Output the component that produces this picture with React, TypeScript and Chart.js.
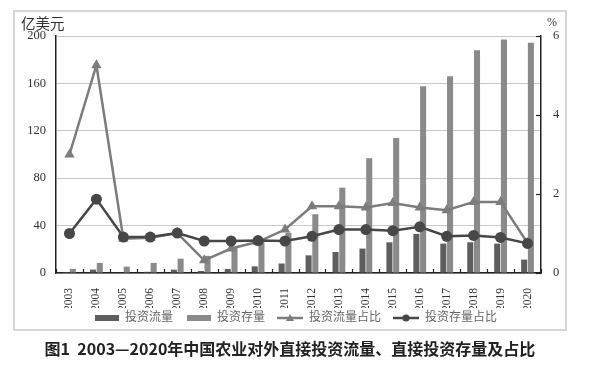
import { useEffect, useRef } from 'react';
import { Chart, registerables } from 'chart.js';
Chart.register(...registerables);

const years = ['2003', '2004', '2005', '2006', '2007', '2008', '2009', '2010', '2011', '2012', '2013', '2014', '2015', '2016', '2017', '2018', '2019', '2020'];
const flow = [0.8, 2.9, 0.5, 1.0, 2.8, 1.7, 3.4, 5.6, 8.0, 14.9, 17.7, 20.6, 25.9, 33.0, 24.8, 25.9, 24.8, 11.3];
const stock = [3.5, 8.5, 5.4, 8.5, 12.1, 14.5, 21.5, 26.0, 34.0, 49.6, 72.0, 96.9, 114.0, 157.6, 166.0, 188.0, 197.0, 194.4];
const flowShare = [3.0, 5.26, 0.87, 0.89, 1.01, 0.32, 0.62, 0.79, 1.10, 1.69, 1.69, 1.66, 1.77, 1.66, 1.59, 1.80, 1.80, 0.76];
const stockShare = [1.0, 1.87, 0.91, 0.91, 1.01, 0.81, 0.81, 0.82, 0.81, 0.93, 1.10, 1.10, 1.07, 1.17, 0.93, 0.95, 0.90, 0.75];
const leftTicks = [0, 40, 80, 120, 160, 200];
const rightTicks = [0, 2, 4, 6];
const names = ['投资流量', '投资存量', '投资流量占比', '投资存量占比'];

const FLOW_C = '#5e5e5e';
const STOCK_C = '#8a8a8a';
const TRI_C = '#7c7c7c';
const CIR_C = '#474747';
const FONT = "'Liberation Serif', 'Noto Sans CJK SC', serif";

function makeIcon(kind: string, color: string): HTMLCanvasElement {
  const c = document.createElement('canvas');
  c.width = 34;
  c.height = 10;
  const g = c.getContext('2d')!;
  g.fillStyle = color;
  g.strokeStyle = color;
  const ox = 8;
  if (kind === 'bar') {
    g.fillRect(ox + 2, 2, 24, 6);
  } else {
    g.lineWidth = 2.5;
    g.beginPath();
    g.moveTo(ox, 5);
    g.lineTo(ox + 26, 5);
    g.stroke();
    g.beginPath();
    if (kind === 'tri') {
      g.moveTo(ox + 13, 1);
      g.lineTo(ox + 17, 8);
      g.lineTo(ox + 9, 8);
      g.closePath();
    } else {
      g.arc(ox + 13, 5, 3.6, 0, Math.PI * 2);
    }
    g.fill();
  }
  return c;
}

const innerTicks = {
  id: 'innerTicks',
  afterDatasetsDraw(chart: any) {
    const { ctx, chartArea } = chart;
    const x = chart.scales.x;
    const y1 = chart.scales.y1;
    ctx.save();
    ctx.strokeStyle = '#222';
    ctx.lineWidth = 1.2;
    const n = years.length;
    const step = (x.right - x.left) / n;
    for (let i = 0; i <= n; i++) {
      const px = Math.round(x.left + i * step) + 0.5;
      ctx.beginPath();
      ctx.moveTo(px, chartArea.bottom);
      ctx.lineTo(px, chartArea.bottom - 4);
      ctx.stroke();
    }
    for (const v of rightTicks) {
      const py = Math.round(y1.getPixelForValue(v)) + 0.5;
      ctx.beginPath();
      ctx.moveTo(chartArea.right, py);
      ctx.lineTo(chartArea.right - 5, py);
      ctx.stroke();
    }
    ctx.restore();
  },
};

export default function App() {
  const ref = useRef<HTMLCanvasElement>(null);
  useEffect(() => {
    if (!ref.current) return;
    const icons = [makeIcon('bar', FLOW_C), makeIcon('bar', STOCK_C), makeIcon('tri', TRI_C), makeIcon('cir', CIR_C)];
    const chart = new Chart(ref.current, {
      type: 'bar',
      data: {
        labels: years,
        datasets: [
          { type: 'bar', label: names[0], data: flow, backgroundColor: FLOW_C, yAxisID: 'y', order: 2, categoryPercentage: 0.5, barPercentage: 0.9 },
          { type: 'bar', label: names[1], data: stock, backgroundColor: STOCK_C, yAxisID: 'y', order: 2, categoryPercentage: 0.5, barPercentage: 0.9 },
          { type: 'line', label: names[2], data: flowShare, borderColor: TRI_C, backgroundColor: TRI_C, borderWidth: 2.5, pointStyle: 'triangle', pointRadius: 6, pointBorderWidth: 0, yAxisID: 'y1', order: 1 },
          { type: 'line', label: names[3], data: stockShare, borderColor: CIR_C, backgroundColor: CIR_C, borderWidth: 2.5, pointStyle: 'circle', pointRadius: 5.5, pointBorderWidth: 0, yAxisID: 'y1', order: 0 },
        ] as any,
      },
      options: {
        responsive: false,
        animation: false,
        layout: { padding: { left: 13, right: 25, top: 36, bottom: 33 } },
        plugins: {
          tooltip: { enabled: false },
          legend: {
            position: 'bottom',
            labels: {
              usePointStyle: true,
              pointStyleWidth: 34,
              boxHeight: 10,
              padding: 4,
              color: '#666',
              font: { size: 12, family: FONT },
              generateLabels: () =>
                names.map((t, i) => ({
                  text: t,
                  pointStyle: icons[i],
                  fillStyle: 'transparent',
                  strokeStyle: 'transparent',
                  lineWidth: 0,
                  hidden: false,
                  datasetIndex: i,
                  fontColor: '#666',
                })),
            },
          },
        },
        scales: {
          x: {
            offset: true,
            grid: { display: false },
            border: { display: true, color: '#222', width: 1.5 },
            ticks: { minRotation: 90, maxRotation: 90, padding: 7, color: '#333', font: { size: 11.5, family: FONT } },
            afterFit: (s: any) => { s.height = 35; },
          },
          y: {
            position: 'left',
            min: 0,
            max: 200,
            afterBuildTicks: (s: any) => { s.ticks = leftTicks.map((v) => ({ value: v })); },
            grid: { color: '#c8c8c8', lineWidth: 1, drawTicks: false },
            border: { display: true, color: '#222', width: 1.5 },
            ticks: { padding: 10, color: '#333', font: { size: 12.5, family: FONT } },
            afterFit: (s: any) => { s.width = 43; },
          },
          y1: {
            position: 'right',
            min: 0,
            max: 6,
            afterBuildTicks: (s: any) => { s.ticks = rightTicks.map((v) => ({ value: v })); },
            grid: { drawOnChartArea: false, drawTicks: false },
            border: { display: true, color: '#222', width: 1.5 },
            ticks: { padding: 12, color: '#333', font: { size: 12.5, family: FONT } },
            afterFit: (s: any) => { s.width = 28; },
          },
        },
      } as any,
      plugins: [innerTicks],
    });
    return () => chart.destroy();
  }, []);

  return (
    <div style={{ position: 'fixed', left: 0, top: 0, width: 594, height: 367, background: '#fff', overflow: 'hidden' }}>
      <div style={{ position: 'absolute', left: 13, top: 10, width: 550, height: 317, border: '2px solid #d6d6d6' }} />
      <canvas ref={ref} width={594} height={367} style={{ position: 'absolute', left: 0, top: 0, width: 594, height: 367 }} />
      <div style={{ position: 'absolute', left: 21, top: 13, fontSize: 14.5, color: '#333', fontFamily: "'Noto Sans CJK SC', sans-serif", lineHeight: '20px' }}>亿美元</div>
      <div style={{ position: 'absolute', left: 547, top: 14, fontSize: 12, color: '#333', fontFamily: FONT, lineHeight: '16px' }}>%</div>
      <div style={{ position: 'absolute', left: 0, width: 580, top: 338, textAlign: 'center', fontSize: 16, fontWeight: 'bold', color: '#222', fontFamily: "'Noto Sans CJK SC', sans-serif", lineHeight: '20px', whiteSpace: 'nowrap' }}>图1&nbsp;&nbsp;2003—2020年中国农业对外直接投资流量、直接投资存量及占比</div>
    </div>
  );
}
